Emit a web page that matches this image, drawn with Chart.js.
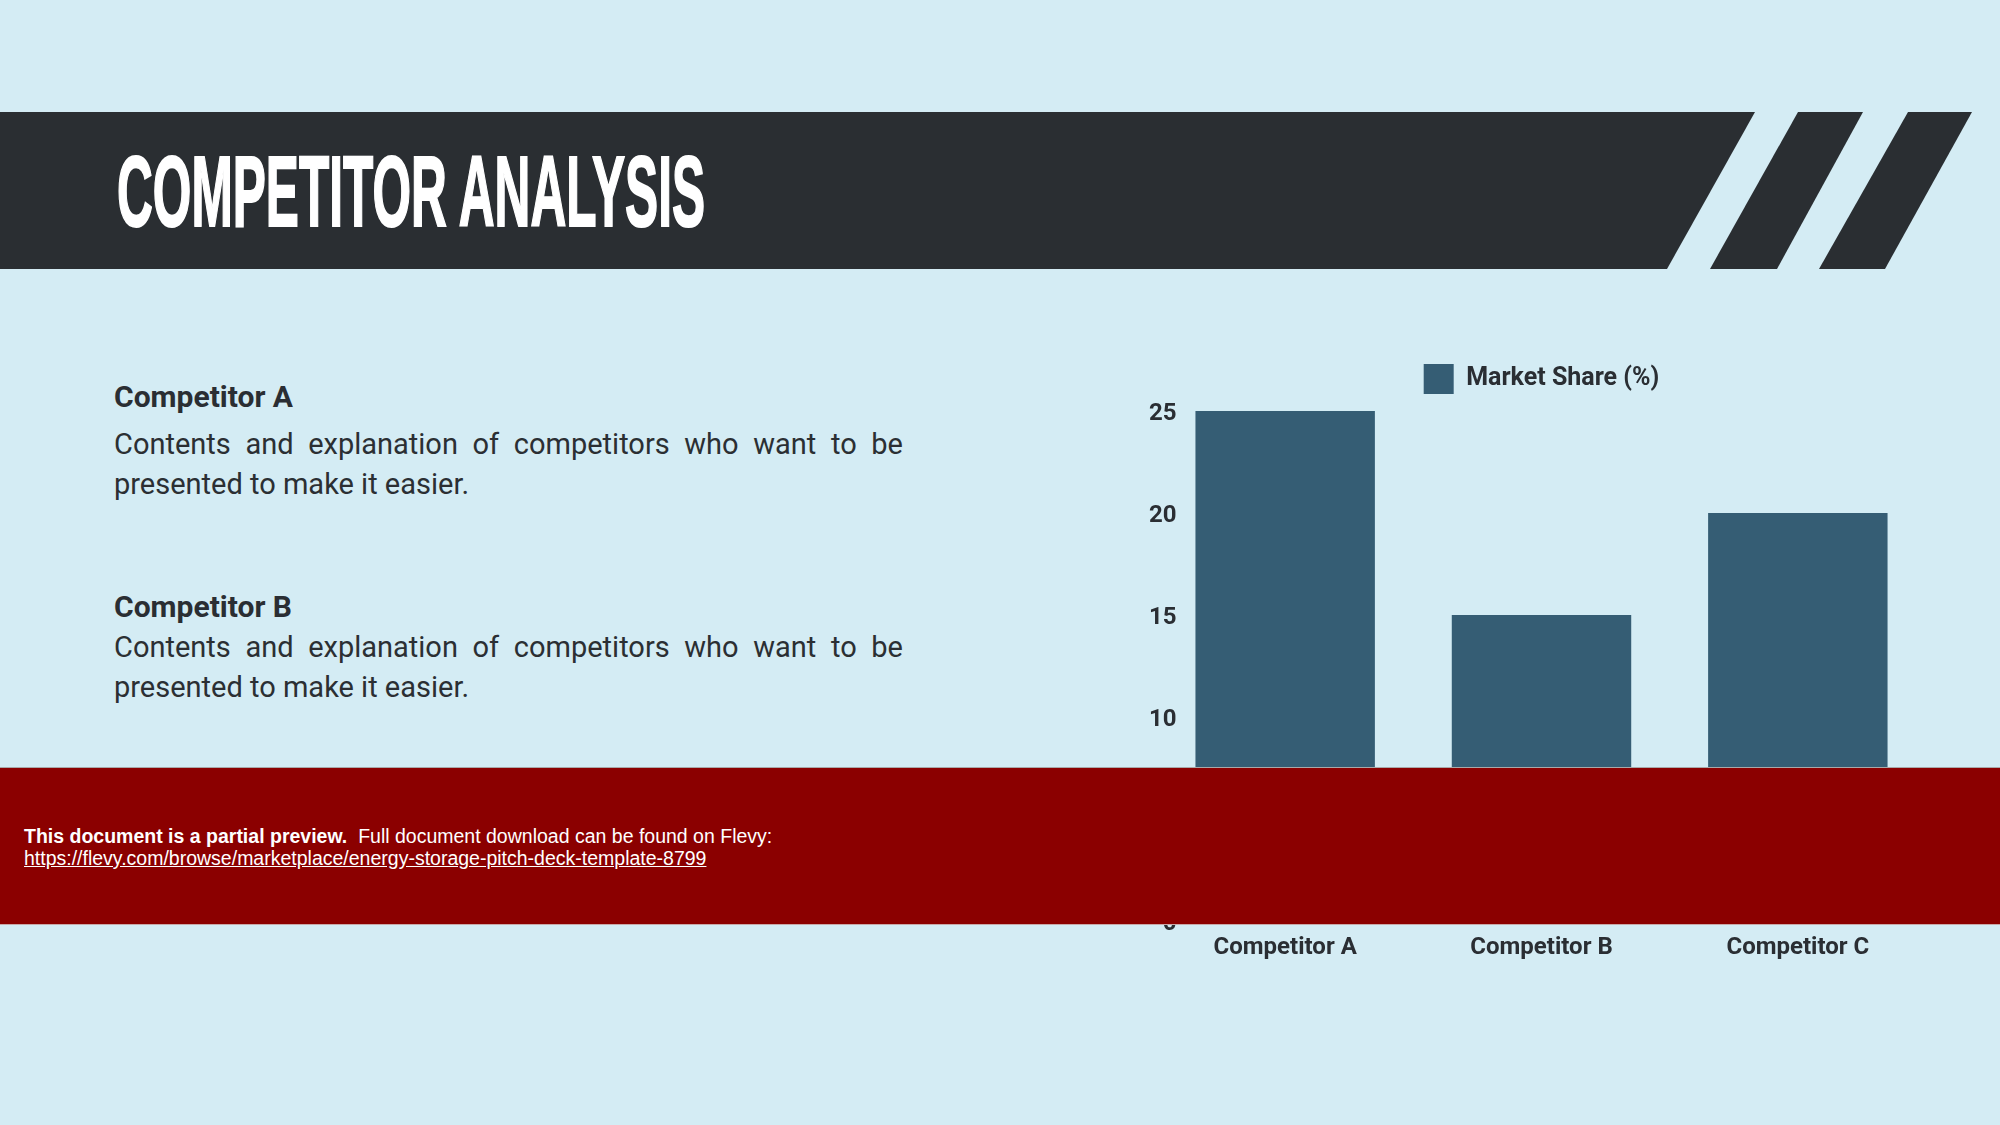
<!DOCTYPE html>
<html>
<head>
<meta charset="utf-8">
<script src="https://cdn.jsdelivr.net/npm/chart.js@4"></script>
<style>
  html, body { margin:0; padding:0; }
  body { width:2000px; height:1125px; background:#D4ECF4; position:relative; overflow:hidden; font-family:Roboto, sans-serif; }
  #banner { position:absolute; left:0; top:0; }
  #title { position:absolute; left:117px; top:141px; font-family:"Liberation Sans Narrow", "Liberation Sans", sans-serif; font-weight:700; font-size:100px; line-height:100px; color:#fff; white-space:nowrap; transform-origin:0 0; -webkit-text-stroke:2px #fff; letter-spacing:0; }
  .head { position:absolute; left:114px; font-family:Roboto, sans-serif; font-weight:700; font-size:30px; line-height:30px; color:#2A2E33; white-space:nowrap; }
  .body { position:absolute; left:114px; width:789px; font-family:Roboto, sans-serif; font-weight:400; font-size:29px; line-height:40px; color:#2B2F33; white-space:nowrap; }
  .just { text-align:justify; text-align-last:justify; white-space:normal; }
  #wrap { position:absolute; left:1100px; top:330px; width:860px; height:650px; }
  #preview { position:absolute; left:0; top:767px; width:2000px; height:156px; background:#8B0000; border-top:1px solid #A9A9A9; border-bottom:1px solid #C9A9A9; z-index:10; }
  #ptext { position:absolute; left:24px; top:57px; font-family:"Liberation Sans", Arial, sans-serif; font-size:19.5px; line-height:22px; color:#fff; }
  #ptext a { color:#fff; text-decoration:underline; }
</style>
</head>
<body>
<svg id="banner" width="2000" height="300">
  <polygon points="0,112 1755,112 1667,269 0,269" fill="#2A2E32"/>
  <polygon points="1798,112 1863,112 1777,269 1710,269" fill="#2A2E32"/>
  <polygon points="1908,112 1972,112 1885,269 1819,269" fill="#2A2E32"/>
</svg>
<div id="title">COMPETITOR ANALYSIS</div>

<div class="head" style="top:382px;">Competitor A</div>
<div class="body just" style="top:424px;">Contents and explanation of competitors who want to be</div>
<div class="body" style="top:464px;">presented to make it easier.</div>

<div class="head" style="top:592px;">Competitor B</div>
<div class="body just" style="top:627px;">Contents and explanation of competitors who want to be</div>
<div class="body" style="top:667px;">presented to make it easier.</div>

<div id="wrap"><canvas id="c" width="860" height="650"></canvas></div>

<div id="preview">
  <div id="ptext"><b>This document is a partial preview.</b>&nbsp; Full document download can be found on Flevy:<br><a>https://flevy.com/browse/marketplace/energy-storage-pitch-deck-template-8799</a></div>
</div>

<script>
// ---- data ----
const categories = ['Competitor A', 'Competitor B', 'Competitor C'];
const marketShare = [25, 15, 20];
const seriesLabel = 'Market Share (%)';
const yTicksMin = 0;
const yTicksMax = 25;
const yTickStep = 5;

// title fit
(function(){
  const t = document.getElementById('title');
  const w = t.getBoundingClientRect().width;
  const target = 588;
  t.style.transform = 'scaleX(' + (target / w) + ')';
})();

const legendGap = {
  id: 'legendGap',
  beforeLayout(chart) {
    const lg = chart.legend;
    if (lg && !lg._gapPatched) {
      const f = lg.fit;
      lg.fit = function() { f.call(this); this.height += 7; };
      lg._gapPatched = true;
    }
  }
};

const textColor = '#2A2E33';
new Chart(document.getElementById('c'), {
  type: 'bar',
  data: {
    labels: categories,
    datasets: [{
      label: seriesLabel,
      data: marketShare,
      backgroundColor: '#355D74',
      borderWidth: 0,
      categoryPercentage: 0.8,
      barPercentage: 0.875
    }]
  },
  options: {
    responsive: false,
    devicePixelRatio: 1,
    animation: false,
    layout: { padding: { left: 37, right: 34, top: 24, bottom: 9 } },
    plugins: {
      legend: {
        position: 'top',
        fullSize: false,
        labels: {
          boxWidth: 30, boxHeight: 30, padding: 10,
          color: textColor,
          font: { family: 'Roboto', size: 25, weight: 'bold' }
        }
      },
      tooltip: { enabled: false }
    },
    scales: {
      x: {
        grid: { display: false, drawTicks: false },
        border: { display: false },
        afterFit: (s) => { s.height = 50; },
        ticks: { color: textColor, padding: 12.5, font: { family: 'Roboto', size: 24, weight: 'bold' } }
      },
      y: {
        min: yTicksMin, max: yTicksMax,
        grid: { display: false, drawTicks: false },
        border: { display: false },
        afterFit: (s) => { s.width = 20; },
        ticks: { stepSize: yTickStep, mirror: true, crossAlign: 'far', padding: -8, labelOffset: 2.5, color: textColor, font: { family: 'Roboto', size: 24, weight: 'bold' } }
      }
    }
  },
  plugins: [legendGap]
});
</script>
</body>
</html>
